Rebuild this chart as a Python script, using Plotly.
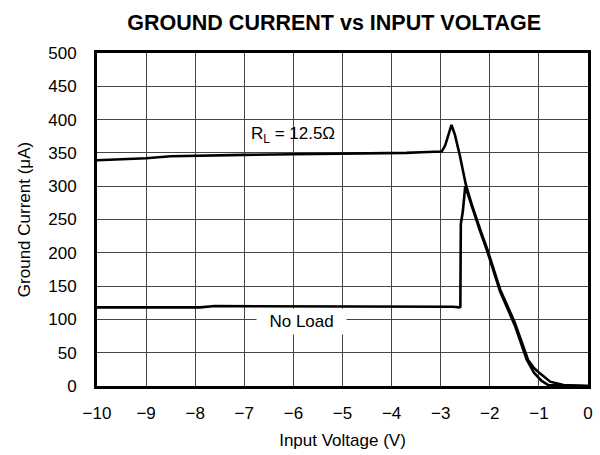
import plotly.graph_objects as go

# R_L = 12.5 ohm curve
rl_v = [-10, -9, -8.5, -8, -7, -6, -5, -4, -3.7, -3.4, -2.98, -2.91, -2.84, -2.78, -2.71, -2.61, -2.49, -2.37, -2.20, -2.05, -1.79, -1.49, -1.22, -1.1, -0.98, -0.77, -0.5, -0.3, 0]
rl_i = [339, 342, 345, 346, 347, 348, 348.5, 349, 350, 351, 352, 361, 380, 392, 377, 346, 303, 273, 236, 205, 145, 95, 39, 27, 19, 6.5, 1.5, 0.5, 0]

# No load curve
nl_v = [-10, -8.5, -7.9, -7.6, -6, -5, -4, -3.0, -2.75, -2.62, -2.60, -2.59, -2.55, -2.50, -2.37, -2.20, -2.05, -1.79, -1.49, -1.25, -1.1, -0.95, -0.81, -0.6, -0.3, 0]
nl_i = [118, 118, 118, 120, 120, 120, 120, 120, 119, 118, 119, 243, 262, 300, 270, 233, 202, 142, 91, 40, 20, 8, 1.5, 0.8, 0.3, 0]

x_ticks = [-10, -9, -8, -7, -6, -5, -4, -3, -2, -1, 0]
y_ticks = [0, 50, 100, 150, 200, 250, 300, 350, 400, 450, 500]

FONT = "Liberation Sans, Arial, Helvetica, sans-serif"

fig = go.Figure()
fig.add_trace(go.Scatter(x=rl_v, y=rl_i, mode="lines", line=dict(color="black", width=2.6), showlegend=False))
fig.add_trace(go.Scatter(x=nl_v, y=nl_i, mode="lines", line=dict(color="black", width=2.6), showlegend=False))

fig.add_annotation(x=-6.01, y=377, text="R<sub>L</sub> = 12.5Ω", showarrow=False,
                   font=dict(size=17, color="black", family=FONT))
fig.add_annotation(x=-5.83, y=97, text="&nbsp;&nbsp;No Load&nbsp;&nbsp;", showarrow=False, bgcolor="white",
                   borderpad=3, font=dict(size=17, color="black", family=FONT))

fig.update_layout(
    width=600, height=455,
    margin=dict(l=97, r=12, t=53, b=69),
    paper_bgcolor="white", plot_bgcolor="white",
    font=dict(family=FONT, size=17, color="black"),
    title=dict(text="<b>GROUND CURRENT vs INPUT VOLTAGE</b>", x=0.557, xanchor="center", xref="container",
               y=0.950, yanchor="middle", yref="container",
               font=dict(size=21.5, color="black", family=FONT)),
)
fig.update_xaxes(range=[-10, 0], tickvals=x_ticks,
                 ticktext=[("−" + str(-v)) if v < 0 else str(v) for v in x_ticks],
                 showgrid=True, gridcolor="#444444", gridwidth=1, zeroline=False,
                 showline=True, linecolor="black", linewidth=3, mirror=True,
                 ticks="", ticklabelstandoff=10, automargin=False,
                 tickfont=dict(size=17),
                 title=dict(text="Input Voltage (V)", standoff=12, font=dict(size=17)))
fig.update_yaxes(range=[0, 500], tickvals=y_ticks,
                 showgrid=True, gridcolor="#444444", gridwidth=1, zeroline=False,
                 showline=True, linecolor="black", linewidth=3, mirror=True,
                 ticks="", ticklabelstandoff=14, automargin=False,
                 tickfont=dict(size=17),
                 title=dict(text="Ground Current (μA)", standoff=14, font=dict(size=17)))

fig.write_html("out.html", config={"displayModeBar": False},
               post_script="document.body.style.margin='0px';")
